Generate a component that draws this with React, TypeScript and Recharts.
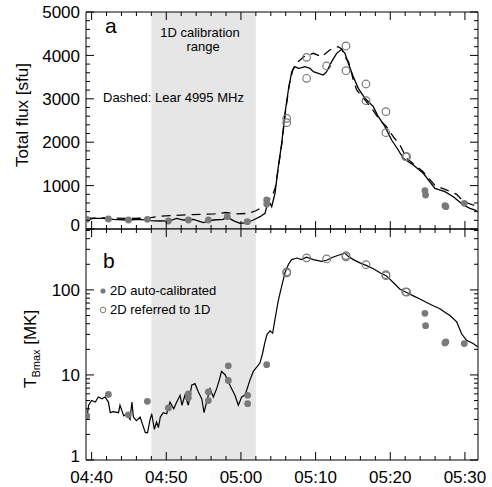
import React from "react";
import { ComposedChart, Line, Scatter, XAxis, YAxis, ReferenceArea, ReferenceLine } from "recharts";

const FONT = "'Liberation Sans', Arial, Helvetica, sans-serif";
const INK = "#000";
const DOT = "#7a7a7a";
const SHADE = "#e6e6e6";

// time axis: minutes after 04:00 UT
const timeDomain: [number, number] = [39.25, 91.75];
const timeMajor = [40, 50, 60, 70, 80, 90];
const timeMinor = [42, 44, 46, 48, 52, 54, 56, 58, 62, 64, 66, 68, 72, 74, 76, 78, 82, 84, 86, 88];
const timeLabels = ["04:40", "04:50", "05:00", "05:10", "05:20", "05:30"];
const calibStart = 48;
const calibEnd = 62;

const fluxDomain: [number, number] = [0, 5000];
const fluxMajor = [0, 1000, 2000, 3000, 4000, 5000];
const fluxMinor = [200, 400, 600, 800, 1200, 1400, 1600, 1800, 2200, 2400, 2600, 2800, 3200, 3400, 3600, 3800, 4200, 4400, 4600, 4800];

const tbDomain: [number, number] = [1, 520];
const tbMajor = [1, 10, 100];
const tbMinor = [2, 3, 4, 5, 6, 7, 8, 9, 20, 30, 40, 50, 60, 70, 80, 90, 200, 300, 400, 500];

// panel a: total flux (solid)
const fluxTime = [
  39.35, 40.24, 41.58, 42.92, 44.7, 46.49, 47.83, 49.17, 50.51, 51.4,
  52.29, 53.63, 54.97, 56.31, 57.65, 58.09, 58.98, 59.88, 60.77, 61.66,
  62.56, 63.23, 63.45, 63.9, 64.12, 64.34, 64.56, 65.01, 65.46, 65.9,
  66.35, 66.8, 67.24, 67.69, 68.13, 68.58, 69.25, 69.7, 70.37, 71.03,
  71.48, 72.15, 72.82, 73.49, 73.93, 74.38, 75.05, 75.72, 76.61, 77.73,
  78.4, 79.29, 80.18, 81.07, 81.74, 83.08, 84.42, 85.98, 87.32, 88.44,
  89.78, 90.67, 91.56,
];
const fluxValue = [
  207, 246, 246, 223, 207, 223, 192, 184, 192, 246,
  207, 223, 146, 207, 223, 284, 192, 131, 146, 207,
  284, 361, 515, 591, 515, 668, 822, 1436, 1974, 2665,
  3203, 3625, 3740, 3702, 3717, 3740, 3702, 3625, 3587, 3548,
  3625, 3856, 4048, 4140, 4048, 3817, 3510, 3241, 3011, 2819,
  2588, 2358, 2051, 1820, 1628, 1475, 1283, 937, 860, 745,
  553, 476, 422,
];

// panel a: Lear 4995 MHz (dashed)
const learTime = [
  39.35, 42, 45, 47.5, 49, 50.5, 52, 53.5, 55, 56.5,
  58, 59.5, 61, 62, 63, 63.6, 64.2, 64.6, 65.0, 65.5,
  66, 66.5, 67, 67.7, 68.4, 69.7, 70.8, 71.9, 73.0, 73.5,
  73.9, 74.4, 75.05, 75.5, 76.2, 76.8, 77.5, 78.6, 79.5, 80.4,
  81.3, 82.2, 83.3, 84.4, 86, 87.5, 88.9, 89.8, 91.1, 91.6,
];
const learValue = [
  250, 255, 245, 250, 290, 310, 320, 330, 340, 350,
  380, 350, 360, 420, 520, 640, 760, 950, 1400, 2000,
  2750, 3350, 3700, 3860, 3970, 4048, 3970, 4125, 4200, 4150,
  3970, 3856, 3433, 3203, 3050, 2934, 2780, 2511, 2358, 2127,
  1935, 1628, 1475, 1320, 1000, 900, 800, 630, 553, 530,
];

// panel a: 2D auto-calibrated (filled) and 2D referred to 1D (open)
const autoFluxTime = [39.35, 42.25, 44.93, 47.47, 50.28, 52.96, 55.64, 58.18, 60.86, 63.45, 63.45, 84.64, 84.73, 87.32, 87.45, 89.91];
const autoFluxValue = [223, 230, 207, 223, 184, 207, 207, 284, 169, 668, 576, 883, 783, 538, 515, 591];
const refFluxTime = [66.13, 66.13, 68.8, 68.8, 71.48, 74.07, 74.07, 76.75, 76.75, 79.42, 79.42, 82.06, 82.2];
const refFluxValue = [2550, 2450, 3955, 3472, 3756, 4217, 3648, 3341, 2957, 2704, 2220, 1667, 1667];

// panel b: T_Bmax (solid)
const tbTime = [
  39.35, 39.6, 40.0, 40.5, 40.9, 41.4, 41.8, 42.25, 42.5, 42.9,
  43.6, 43.8, 44.3, 44.7, 45.15, 45.4, 45.6, 46.0, 46.5, 46.9,
  47.2, 47.5, 47.8, 48.05, 48.4, 48.7, 48.95, 49.2, 49.6, 50.06,
  50.5, 51.0, 51.4, 51.85, 52.1, 52.5, 52.96, 53.4, 53.85, 54.3,
  54.75, 55.06, 55.4, 55.86, 56.3, 56.75, 57.1, 57.4, 57.9, 58.3,
  58.76, 59.2, 59.65, 60.1, 60.5, 60.77, 61.2, 61.66, 62.55, 62.9,
  63.2, 63.5, 63.9, 64.25, 64.56, 65.0, 65.46, 65.9, 66.35, 66.8,
  67.5, 68.1, 68.8, 69.7, 70.8, 71.48, 72.37, 73.27, 73.9, 74.38,
  75.05, 75.94, 76.84, 77.73, 78.62, 79.5, 80.4, 81.3, 82.19, 83.08,
  83.97, 84.87, 85.76, 86.65, 87.32, 88.0, 88.9, 89.55, 90.2, 91.1,
  91.7,
];
const tbValue = [
  3.0, 4.4, 5.0, 4.8, 5.5, 5.25, 5.5, 4.8, 3.6, 3.7,
  3.6, 4.4, 3.3, 3.5, 3.0, 4.8, 3.2, 2.9, 3.2, 2.5,
  2.1, 2.1, 2.9, 3.5, 2.3, 2.8, 2.4, 3.2, 3.6, 3.5,
  4.8, 4.0, 4.8, 5.76, 4.4, 5.76, 4.4, 7.6, 7.9, 6.3,
  5.25, 3.6, 4.8, 6.9, 5.5, 6.9, 8.7, 11.0, 10.0, 8.3,
  6.9, 5.76, 4.4, 5.5, 5.76, 6.6, 8.7, 11.0, 13.8, 18,
  24, 30, 33, 31, 45, 75, 111, 159, 199, 227,
  237, 227, 242, 227, 217, 223, 244, 259, 271, 248,
  227, 208, 193, 177, 159, 146, 122, 102, 93, 85,
  78, 71, 65, 60, 54.5, 50, 42, 30.5, 25.6, 23.4,
  21.4,
];

// panel b: markers
const autoTbTime = [39.35, 42.25, 44.93, 47.47, 50.28, 52.96, 52.96, 55.64, 55.64, 58.31, 58.31, 60.9, 60.9, 63.45, 84.64, 84.73, 87.32, 87.45, 89.91];
const autoTbValue = [3.3, 5.9, 3.4, 4.9, 4.1, 6.0, 5.4, 6.3, 5.0, 12.8, 8.6, 5.76, 4.6, 13.2, 53, 38, 23.8, 24.5, 23.4];
const refTbTime = [66.13, 66.13, 68.8, 71.48, 74.07, 74.07, 76.75, 79.42, 79.42, 82.06, 82.2];
const refTbValue = [163, 158, 238, 231, 253, 245, 198, 151, 147, 95, 94];

const zip = (t: number[], v: number[]) => t.map((x, i) => ({ t: x, v: v[i] }));

const fluxData = zip(fluxTime, fluxValue);
const learData = zip(learTime, learValue);
const autoFluxData = zip(autoFluxTime, autoFluxValue);
const refFluxData = zip(refFluxTime, refFluxValue);
const tbData = zip(tbTime, tbValue);
const autoTbData = zip(autoTbTime, autoTbValue);
const refTbData = zip(refTbTime, refTbValue);

const W = 492;
const MARGIN_R = 14;
const PLOT_RIGHT = W - MARGIN_R;
const Y_GAP = 6; // label gap left of the frame
const X_GAP = 11; // label gap under the frame
const LONG = 8;
const SHORT = 4;

const FilledDot = (p: any) => <circle cx={p.cx} cy={p.cy} r={3.4} fill={DOT} />;
const OpenDot = (p: any) => <circle cx={p.cx} cy={p.cy} r={3.8} fill="none" stroke={DOT} strokeWidth={1.2} />;
const ln = { stroke: INK, strokeWidth: 1 };

// y tick: label for majors, inward marks on left and right frame
function makeYTick(majors: number[]) {
  return (p: any) => {
    const { x, y, payload } = p;
    const v = payload.value;
    const major = majors.includes(v);
    const len = major ? LONG : SHORT;
    const left = x + Y_GAP;
    const shift = v === 0 || v === 1 ? -4 : 0;
    return (
      <g>
        <line x1={left} y1={y} x2={left + len} y2={y} {...ln} />
        <line x1={PLOT_RIGHT} y1={y} x2={PLOT_RIGHT - len} y2={y} {...ln} />
        {major && (
          <text x={x} y={y + shift} dy="0.36em" textAnchor="end" fontFamily={FONT} fontSize={17} fill={INK}>
            {v}
          </text>
        )}
      </g>
    );
  };
}

// x tick: inward marks on bottom and top frame, optional labels
function makeXTick(plotTop: number, gap: number, labels: boolean) {
  return (p: any) => {
    const { x, y, payload } = p;
    const v = payload.value;
    const idx = timeMajor.indexOf(v);
    const len = idx >= 0 ? LONG : SHORT;
    const bottom = y - gap;
    return (
      <g>
        <line x1={x} y1={bottom} x2={x} y2={bottom - len} {...ln} />
        <line x1={x} y1={plotTop} x2={x} y2={plotTop + len} {...ln} />
        {labels && idx >= 0 && (
          <text x={x} y={y} dy="0.71em" textAnchor="middle" fontFamily={FONT} fontSize={17} fill={INK}>
            {timeLabels[idx]}
          </text>
        )}
      </g>
    );
  };
}

const timeTicks = [...timeMajor, ...timeMinor];
const fluxTicks = [...fluxMajor, ...fluxMinor];
const tbTicks = [...tbMajor, ...tbMinor];

const A_TOP = 12;
const B_TOP = 1;

function FluxPanel() {
  return (
    <ComposedChart width={W} height={250} margin={{ top: A_TOP, right: MARGIN_R, bottom: 20, left: 0 }}>
      <XAxis xAxisId="m" dataKey="t" type="number" domain={timeDomain} allowDataOverflow ticks={timeTicks} interval={0}
        height={1} tickLine={false} axisLine={ln} tickSize={0} tickMargin={0} tick={makeXTick(A_TOP, 0, false)} />
      <YAxis yAxisId="m" dataKey="v" type="number" domain={fluxDomain} allowDataOverflow ticks={fluxTicks} interval={0}
        width={86} tickLine={false} axisLine={ln} tickSize={0} tickMargin={Y_GAP} tick={makeYTick(fluxMajor)} />
      <ReferenceArea xAxisId="m" yAxisId="m" x1={calibStart} x2={calibEnd} fill={SHADE} fillOpacity={1} stroke="none" />
      <ReferenceLine xAxisId="m" yAxisId="m" y={fluxDomain[1]} stroke={INK} strokeWidth={1} />
      <ReferenceLine xAxisId="m" yAxisId="m" x={timeDomain[1]} stroke={INK} strokeWidth={1} />
      <Line xAxisId="m" yAxisId="m" data={learData} dataKey="v" stroke={INK} strokeWidth={1.3} strokeDasharray="9 6" dot={false} isAnimationActive={false} />
      <Line xAxisId="m" yAxisId="m" data={fluxData} dataKey="v" stroke={INK} strokeWidth={1.3} dot={false} isAnimationActive={false} />
      <Scatter xAxisId="m" yAxisId="m" data={autoFluxData} dataKey="v" shape={FilledDot} isAnimationActive={false} />
      <Scatter xAxisId="m" yAxisId="m" data={refFluxData} dataKey="v" shape={OpenDot} isAnimationActive={false} />
    </ComposedChart>
  );
}

function TbPanel() {
  return (
    <ComposedChart width={W} height={259} margin={{ top: B_TOP, right: MARGIN_R, bottom: 5, left: 0 }}>
      <XAxis xAxisId="m" dataKey="t" type="number" domain={timeDomain} allowDataOverflow ticks={timeTicks} interval={0}
        height={22} tickLine={false} axisLine={ln} tickSize={0} tickMargin={X_GAP} tick={makeXTick(B_TOP, X_GAP, true)} />
      <YAxis yAxisId="m" dataKey="v" type="number" scale="log" domain={tbDomain} allowDataOverflow ticks={tbTicks} interval={0}
        width={86} tickLine={false} axisLine={ln} tickSize={0} tickMargin={Y_GAP} tick={makeYTick(tbMajor)} />
      <ReferenceArea xAxisId="m" yAxisId="m" x1={calibStart} x2={calibEnd} fill={SHADE} fillOpacity={1} stroke="none" />
      <ReferenceLine xAxisId="m" yAxisId="m" y={tbDomain[1]} stroke={INK} strokeWidth={1} />
      <ReferenceLine xAxisId="m" yAxisId="m" x={timeDomain[1]} stroke={INK} strokeWidth={1} />
      <Line xAxisId="m" yAxisId="m" data={tbData} dataKey="v" stroke={INK} strokeWidth={1.2} dot={false} isAnimationActive={false} />
      <Scatter xAxisId="m" yAxisId="m" data={autoTbData} dataKey="v" shape={FilledDot} isAnimationActive={false} />
      <Scatter xAxisId="m" yAxisId="m" data={refTbData} dataKey="v" shape={OpenDot} isAnimationActive={false} />
    </ComposedChart>
  );
}

export default function App() {
  const txt = { fontFamily: FONT, fill: INK };
  return (
    <div style={{ position: "absolute", left: 0, top: 0, width: W, height: 487, background: "#fff" }}>
      <div style={{ position: "absolute", left: 0, top: 0 }}>
        <FluxPanel />
      </div>
      <div style={{ position: "absolute", left: 0, top: 228 }}>
        <TbPanel />
      </div>
      <svg width={W} height={487} style={{ position: "absolute", left: 0, top: 0, pointerEvents: "none" }}>
        <text x={105} y={33} fontSize={21} {...txt}>a</text>
        <text x={103} y={268} fontSize={21} {...txt}>b</text>
        <text x={200} y={37} fontSize={13} textAnchor="middle" {...txt}>1D calibration</text>
        <text x={203} y={51} fontSize={13} textAnchor="middle" {...txt}>range</text>
        <text x={103} y={102} fontSize={13} {...txt}>Dashed: Lear 4995 MHz</text>
        <circle cx={103} cy={291} r={2.6} fill={DOT} />
        <text x={110} y={295} fontSize={13} {...txt}>2D auto-calibrated</text>
        <circle cx={103} cy={310} r={2.8} fill="none" stroke={DOT} strokeWidth={1} />
        <text x={110} y={314} fontSize={13} {...txt}>2D referred to 1D</text>
        <text transform="translate(28,115) rotate(-90)" textAnchor="middle" fontSize={17} {...txt}>Total flux [sfu]</text>
        <text transform="translate(36,388) rotate(-90)" fontSize={17} {...txt}>
          T<tspan fontSize={11} dy={4}>Bmax</tspan><tspan dy={-4}> [MK]</tspan>
        </text>
      </svg>
    </div>
  );
}
